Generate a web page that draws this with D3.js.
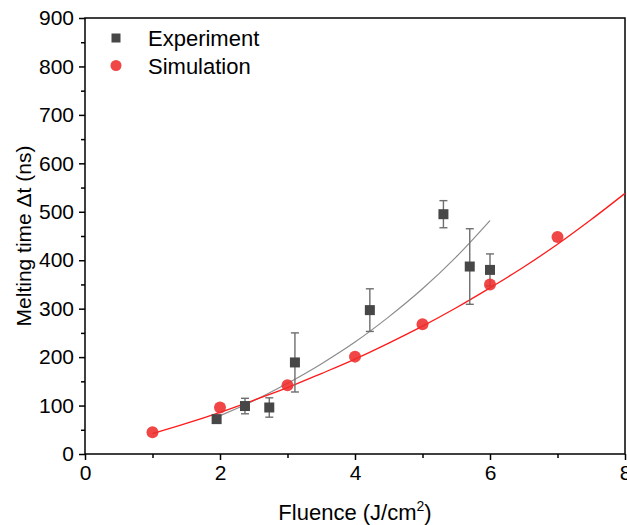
<!DOCTYPE html>
<html><head><meta charset="utf-8">
<script src="https://cdn.jsdelivr.net/npm/d3@7"></script>
<style>body{margin:0;background:#fff}svg{display:block}text{font-family:Arial,"Liberation Sans",sans-serif}</style>
</head><body>
<script>
// Experiment data (fluence J/cm², melting time ns, error ns)
const expX = [1.95, 2.37, 2.73, 3.11, 4.22, 5.31, 5.70, 6.00];
const expY = [72, 99, 96, 189, 297, 495, 387, 380];
const expErr = [0, 16, 20, 61, 44, 28, 78, 33];
// Simulation data
const simX = [1, 2, 3, 4, 5, 6, 7];
const simY = [45, 96, 142, 201, 268, 350, 448];
// Fit curves
const fitExpX = [1.95, 2, 2.5, 3, 3.5, 4, 4.5, 5, 5.5, 6];
const fitExpY = [76, 79, 110, 146, 186, 231, 283, 341, 407, 482];
const fitSimX = [1, 1.5, 2, 2.5, 3, 3.5, 4, 4.5, 5, 5.5, 6, 6.5, 7, 7.5, 8];
const fitSimY = [42, 63, 86, 111, 137, 166, 196, 229, 264, 302, 343, 386, 433, 484, 538];
const xTicks = [0, 2, 4, 6, 8];
const yTicks = [0, 100, 200, 300, 400, 500, 600, 700, 800, 900];
const legendLabels = ["Experiment", "Simulation"];

const W = 627, H = 525;
const m = {l: 85, r: 2, t: 18, b: 71};
const svg = d3.select("body").append("svg").attr("width", W).attr("height", H);
const x = d3.scaleLinear().domain([0, 8]).range([m.l, W - m.r]);
const y = d3.scaleLinear().domain([0, 900]).range([H - m.b, m.t]);

const fontSize = 21;
// axes
const xAxis = d3.axisBottom(x).tickValues(xTicks).tickSize(6).tickPadding(5).tickFormat(d3.format("d"));
const xMinor = d3.axisBottom(x).tickValues([1,3,5,7]).tickSize(4).tickFormat("");
const yAxis = d3.axisLeft(y).tickValues(yTicks).tickSize(6).tickPadding(5).tickFormat(d3.format("d"));
const yMinor = d3.axisLeft(y).tickValues(d3.range(50, 900, 100)).tickSize(4).tickFormat("");

function style(g){
  g.select(".domain").remove();
  g.selectAll("line").attr("stroke","#000").attr("stroke-width",1.5);
  g.selectAll("text").attr("font-size",fontSize).attr("fill","#000");
}
svg.append("g").attr("transform",`translate(0,${y(0)})`).call(xAxis).call(style);
svg.append("g").attr("transform",`translate(0,${y(0)})`).call(xMinor).call(style);
svg.append("g").attr("transform",`translate(${x(0)},0)`).call(yAxis).call(style);
svg.append("g").attr("transform",`translate(${x(0)},0)`).call(yMinor).call(style);

// frame
svg.append("rect").attr("x",x(0)).attr("y",y(900)).attr("width",x(8)-x(0)).attr("height",y(0)-y(900))
  .attr("fill","none").attr("stroke","#000").attr("stroke-width",1.5);

// fit lines
const line = d3.line().x(d=>x(d[0])).y(d=>y(d[1])).curve(d3.curveMonotoneX);
svg.append("path").datum(fitExpX.map((v,i)=>[v,fitExpY[i]])).attr("d",line)
  .attr("fill","none").attr("stroke","#8c8c8c").attr("stroke-width",1.2);
svg.append("path").datum(fitSimX.map((v,i)=>[v,fitSimY[i]])).attr("d",line)
  .attr("fill","none").attr("stroke","#ff1a1a").attr("stroke-width",1.3);

// error bars
const eb = svg.append("g").attr("stroke","#6e6e6e").attr("stroke-width",1.4);
expX.forEach((v,i)=>{
  const e = expErr[i]; if(!e) return;
  const cx = x(v), y1 = y(expY[i]+e), y2 = y(expY[i]-e);
  eb.append("line").attr("x1",cx).attr("x2",cx).attr("y1",y1).attr("y2",y2);
  eb.append("line").attr("x1",cx-4).attr("x2",cx+4).attr("y1",y1).attr("y2",y1);
  eb.append("line").attr("x1",cx-4).attr("x2",cx+4).attr("y1",y2).attr("y2",y2);
});

// squares
const sq = 10;
svg.append("g").selectAll("rect").data(expX).join("rect")
  .attr("x",(d)=>x(d)-sq/2).attr("y",(d,i)=>y(expY[i])-sq/2).attr("width",sq).attr("height",sq)
  .attr("fill","#474747");
// circles
svg.append("g").selectAll("circle").data(simX).join("circle")
  .attr("cx",d=>x(d)).attr("cy",(d,i)=>y(simY[i])).attr("r",6)
  .attr("fill","#ee2c2c").attr("fill-opacity",0.88);

// legend
const lg = svg.append("g");
lg.append("rect").attr("x",116-4.5).attr("y",38-4.5).attr("width",9).attr("height",9).attr("fill","#474747");
lg.append("circle").attr("cx",116).attr("cy",65.5).attr("r",5.5).attr("fill","#ee2c2c").attr("fill-opacity",0.88);
lg.append("text").attr("x",148).attr("y",46).attr("font-size",22).text(legendLabels[0]);
lg.append("text").attr("x",148).attr("y",73.5).attr("font-size",22).text(legendLabels[1]);

// axis titles
const xt = svg.append("text").attr("x",(x(0)+x(8))/2).attr("y",520).attr("text-anchor","middle").attr("font-size",22);
xt.append("tspan").text("Fluence (J/cm");
xt.append("tspan").attr("font-size",14).attr("dy",-9).text("2");
xt.append("tspan").attr("dy",9).text(")");
svg.append("text").attr("transform",`translate(31,${(y(0)+y(900))/2}) rotate(-90)`)
  .attr("text-anchor","middle").attr("font-size",21).text("Melting time Δt (ns)");
</script>
</body></html>
